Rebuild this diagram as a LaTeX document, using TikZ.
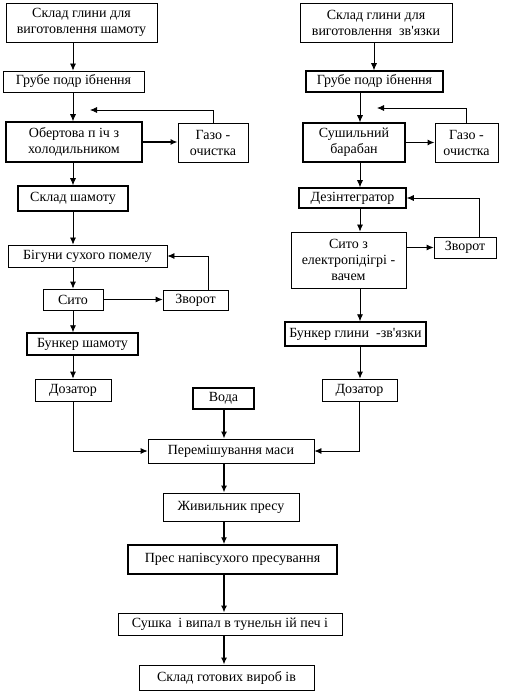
\documentclass[tikz,border=0pt]{standalone}
\usepackage{fontspec}
\setmainfont{Liberation Serif}[Ligatures=TeXOff]
\usetikzlibrary{arrows.meta, positioning}

\tikzset{
  blok/.style={draw, inner sep=1pt, align=center, font=\fontsize{14}{16}\selectfont},
  tovstyi/.style={blok, line width=1.5pt},
  strilka/.style={-{Latex[length=7pt,width=6pt]}},
}

\begin{document}
\begin{tikzpicture}[x=1pt, y=-1pt, line width=0.8pt]
		\useasboundingbox (0,0) rectangle (504,692);
		% osi potokiv
		\coordinate (osL) at (73,0);
		\coordinate (osR) at (374,0);
		\coordinate (osR2) at (360,0);
		\coordinate (osC) at (224,0);
		% liva gilka: shamot
		\node[blok, minimum width=151pt, minimum height=39pt] (sg1) at (81.5,22.5) {Склад глини для\\виготовлення шамоту};
		\node[blok, minimum width=141pt, minimum height=21pt] (gp1) at (73.5,81.5) {Грубе подр ібнення};
		\node[tovstyi, minimum width=136pt, minimum height=40pt] (op) at (74,142) {Обертова п іч з\\холодильником};
		\node[blok, minimum width=70pt, minimum height=39pt] (go1) at (213,142.5) {Газо -\\очистка};
		\node[tovstyi, minimum width=110pt, minimum height=25pt] (shm) at (73,198.5) {Склад шамоту};
		\node[blok, minimum width=159pt, minimum height=22pt] (big) at (87.5,256) {Бігуни сухого помелу};
		\node[blok, minimum width=60pt, minimum height=21pt] (sito1) at (73,299.5) {Сито};
		\node[blok, minimum width=65pt, minimum height=20pt] (zv1) at (195.5,300) {Зворот};
		\node[tovstyi, minimum width=111pt, minimum height=22pt] (bsh) at (82.5,344) {Бункер шамоту};
		\node[blok, minimum width=76pt, minimum height=22pt] (doz1) at (73,390) {Дозатор};
		% prava gilka: zv'yazka
		\node[blok, minimum width=152pt, minimum height=39pt] (sg2) at (376,22.5) {Склад глини для\\виготовлення\ \ зв'язки};
		\node[tovstyi, minimum width=137pt, minimum height=21pt] (gp2) at (374.5,81.5) {Грубе подр ібнення};
		\node[tovstyi, minimum width=102pt, minimum height=39pt] (sb) at (354,142.5) {Сушильний\\барабан};
		\node[blok, minimum width=63pt, minimum height=39pt] (go2) at (466.5,142.5) {Газо -\\очистка};
		\node[tovstyi, minimum width=107pt, minimum height=20pt] (dez) at (352.5,198) {Дезінтегратор};
		\node[blok, minimum width=115pt, minimum height=56pt] (sito2) at (348.5,260) {Сито з\\електропідігрі -\\вачем};
		\node[blok, minimum width=62pt, minimum height=21pt] (zv2) at (465,247.5) {Зворот};
		\node[tovstyi, minimum width=141pt, minimum height=24pt] (bgl) at (355.5,334) {Бункер глини\ \ -зв'язки};
		\node[blok, minimum width=75pt, minimum height=22pt] (doz2) at (359.5,390) {Дозатор};
		% spilna chastyna
		\node[tovstyi, minimum width=61pt, minimum height=21pt] (voda) at (223.5,398.5) {Вода};
		\node[blok, minimum width=166pt, minimum height=24pt] (per) at (231,451) {Перемішування маси};
		\node[blok, minimum width=136pt, minimum height=28pt] (zhyv) at (231,507) {Живильник пресу};
		\node[tovstyi, minimum width=209pt, minimum height=29pt] (pres) at (232.5,559.5) {Прес напівсухого пресування};
		\node[blok, minimum width=224pt, minimum height=22pt] (sush) at (230,624) {Сушка\ \ і випал в тунельн ій печ і};
		\node[blok, minimum width=175pt, minimum height=25pt] (gotov) at (226.5,677.5) {Склад готових вироб ів};
		% zvorotni potoky
		\coordinate (v1) at (90,110);
		\coordinate (v2) at (377,108);
		\draw[strilka] (go1.north) |- (v1);
		\draw[strilka] (go2.north) |- (v2);
		\draw[strilka] ([xshift=13pt]zv1.north) |- (big.east);
		\draw[strilka] ([xshift=14pt]zv2.north) |- (dez.east);
		\draw[strilka, line width=1.5pt] (op.east) -- (op.east -| go1.west);
		\draw[strilka, line width=1.5pt] (sb.east) -- (sb.east -| go2.west);
		\draw[strilka] (sito1.east) -- (sito1.east -| zv1.west);
		\draw[strilka] (zv2.west -| sito2.east) -- (zv2.west);
		% liva vertykal
		\draw[strilka] (sg1.south -| osL) -- (gp1.north -| osL);
		\draw[strilka] (gp1.south -| osL) -- (op.north -| osL);
		\draw[strilka] (op.south -| osL) -- (shm.north -| osL);
		\draw[strilka] (shm.south -| osL) -- (big.north -| osL);
		\draw[strilka] (big.south -| osL) -- (sito1.north -| osL);
		\draw[strilka] (sito1.south -| osL) -- (bsh.north -| osL);
		\draw[strilka] (bsh.south -| osL) -- (doz1.north -| osL);
		% prava vertykal
		\draw[strilka] (sg2.south -| osR) -- (gp2.north -| osR);
		\draw[strilka] (gp2.south -| osR2) -- (sb.north -| osR2);
		\draw[strilka] (sb.south -| osR2) -- (dez.north -| osR2);
		\draw[strilka] (dez.south -| osR2) -- (sito2.north -| osR2);
		\draw[strilka] (sito2.south -| osR2) -- (bgl.north -| osR2);
		\draw[strilka] (bgl.south -| osR2) -- (doz2.north -| osR2);
		% do zmishuvacha
		\draw[strilka] (doz1.south) |- (per.west);
		\draw[strilka] (doz2.south) |- (per.east);
		\draw[strilka, line width=1.5pt] (voda.south -| osC) -- (per.north -| osC);
		\draw[strilka, line width=1.5pt] (per.south -| osC) -- (zhyv.north -| osC);
		\draw[strilka, line width=1.5pt] (zhyv.south -| osC) -- (pres.north -| osC);
		\draw[strilka, line width=1.5pt] (pres.south -| osC) -- (sush.north -| osC);
		\draw[strilka, line width=1.5pt] (sush.south -| osC) -- (gotov.north -| osC);
\end{tikzpicture}
\end{document}
